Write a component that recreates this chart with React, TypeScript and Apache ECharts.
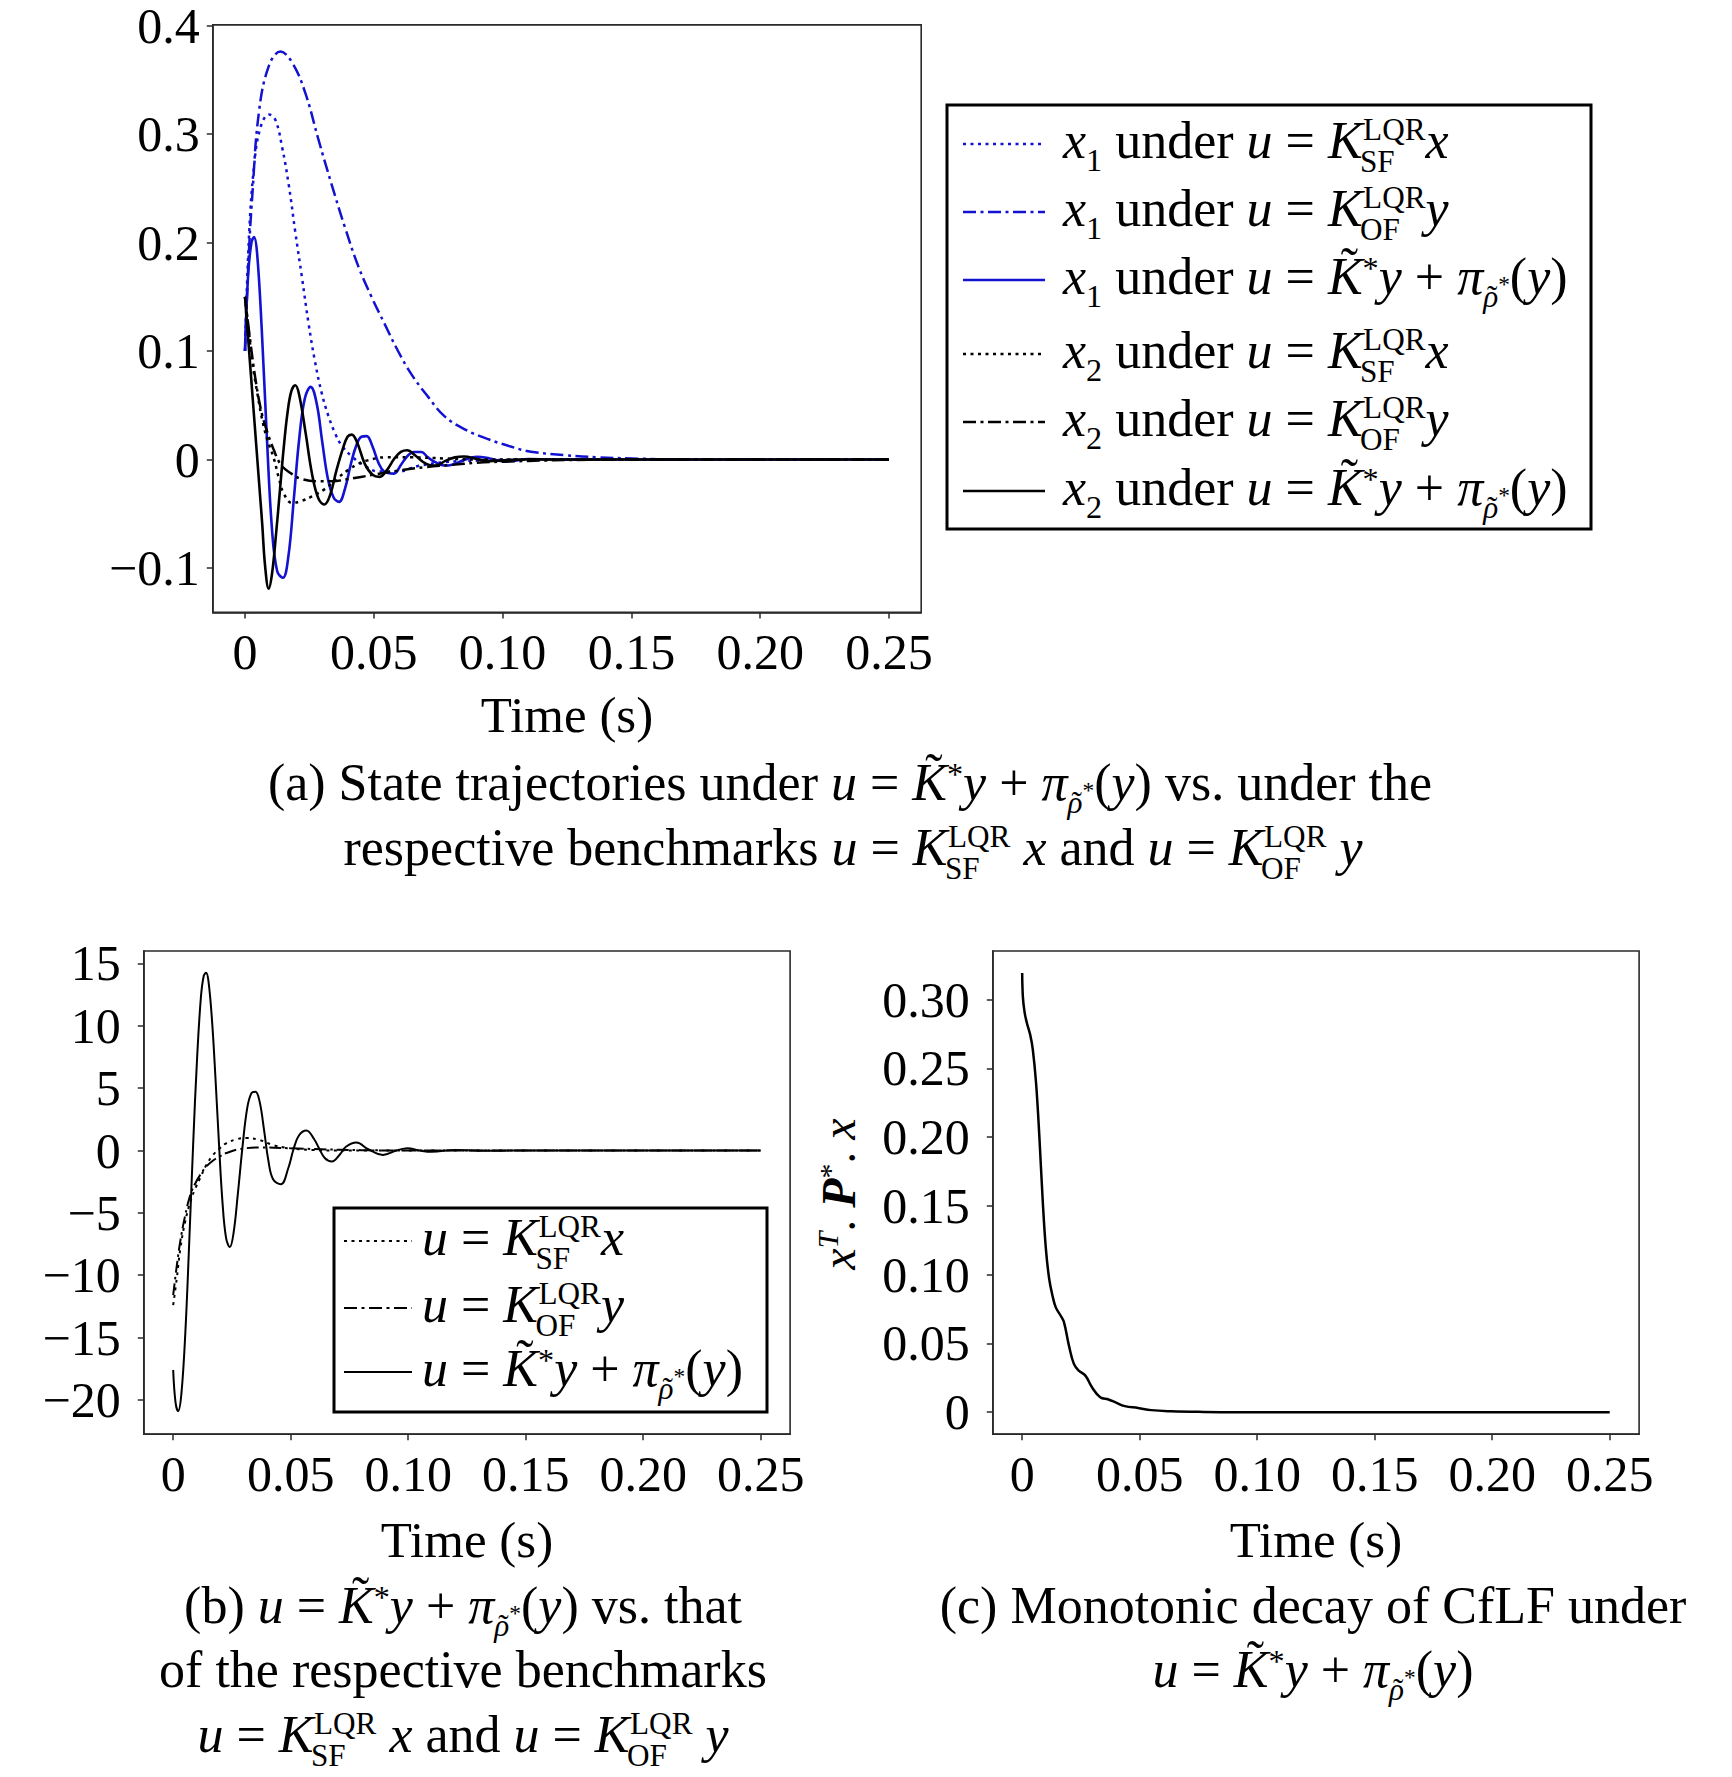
import React, { useEffect, useRef } from 'react';
import * as echarts from 'echarts';

// ---------------- data ----------------
const X_TICKS = [0, 0.05, 0.1, 0.15, 0.2, 0.25];
const X_TICK_LABELS = ['0', '0.05', '0.10', '0.15', '0.20', '0.25'];
const A_Y_TICKS = [-0.1, 0, 0.1, 0.2, 0.3, 0.4];
const A_Y_TICK_LABELS = ['\u22120.1', '0', '0.1', '0.2', '0.3', '0.4'];
const B_Y_TICKS = [-20, -15, -10, -5, 0, 5, 10, 15];
const B_Y_TICK_LABELS = ['\u221220', '\u221215', '\u221210', '\u22125', '0', '5', '10', '15'];
const C_Y_TICKS = [0, 0.05, 0.1, 0.15, 0.2, 0.25, 0.3];
const C_Y_TICK_LABELS = ['0', '0.05', '0.10', '0.15', '0.20', '0.25', '0.30'];

// (a) x1 under u = K_SF x  (blue dotted)
const X1_SF = [[0,0.1],[0.0015,0.203],[0.0035,0.27],[0.006,0.306],[0.0093,0.318],[0.0118,0.313],[0.0144,0.288],[0.017,0.253],[0.0195,0.21],[0.0221,0.168],[0.0247,0.125],[0.0272,0.09],[0.0298,0.061],[0.0324,0.04],[0.035,0.024],[0.0375,0.013],[0.0414,0.003],[0.0465,-0.006],[0.0517,-0.011],[0.0594,-0.011],[0.0671,-0.006],[0.0774,-0.0025],[0.09,-0.001],[0.11,0],[0.25,0]];
// (a) x1 under u = K_OF y  (blue dash-dot)
const X1_OF = [[0,0.1],[0.0014,0.185],[0.0028,0.242],[0.0054,0.32],[0.0093,0.363],[0.0138,0.376],[0.0183,0.366],[0.0234,0.338],[0.0285,0.295],[0.0337,0.253],[0.0388,0.214],[0.044,0.178],[0.0491,0.15],[0.0542,0.125],[0.0594,0.1],[0.0645,0.079],[0.071,0.058],[0.0774,0.04],[0.0851,0.028],[0.0941,0.019],[0.1031,0.012],[0.111,0.0072],[0.124,0.0041],[0.137,0.002],[0.15,0.001],[0.17,0],[0.25,0]];
// (a) x1 under proposed control (blue solid)
const X1_OPT = [[0,0.1],[0.0012,0.17],[0.0025,0.2],[0.0035,0.205],[0.0047,0.19],[0.0065,0.12],[0.0085,0.02],[0.0105,-0.065],[0.0125,-0.103],[0.0147,-0.109],[0.0168,-0.09],[0.019,-0.035],[0.021,0.018],[0.0232,0.056],[0.0255,0.067],[0.0278,0.052],[0.03,0.016],[0.0322,-0.018],[0.0344,-0.035],[0.0365,-0.039],[0.0388,-0.027],[0.041,-0.005],[0.0432,0.013],[0.0452,0.021],[0.0472,0.0216],[0.0495,0.012],[0.0518,-0.003],[0.054,-0.011],[0.0578,-0.013],[0.0605,-0.005],[0.063,0.003],[0.0655,0.007],[0.0684,0.007],[0.071,0.002],[0.0735,-0.002],[0.0775,-0.0055],[0.08,-0.005],[0.085,-0.0005],[0.09,0.0025],[0.095,0.001],[0.1,-0.0015],[0.105,-0.001],[0.11,0.0005],[0.12,0],[0.25,0]];
// (a) x2 under u = K_SF x  (black dotted)
const X2_SF = [[0,0.15],[0.0015,0.118],[0.0028,0.09],[0.0048,0.061],[0.0067,0.0365],[0.0086,0.0188],[0.0112,0.001],[0.0131,-0.0167],[0.015,-0.031],[0.0183,-0.04],[0.0221,-0.038],[0.026,-0.034],[0.0311,-0.027],[0.0362,-0.0167],[0.0401,-0.0095],[0.044,-0.004],[0.0478,-0.0007],[0.0542,0.002],[0.0645,0.002],[0.0774,0.001],[0.09,0],[0.25,0]];
// (a) x2 under u = K_OF y  (black dash-dot)
const X2_OF = [[0,0.15],[0.002,0.11],[0.004,0.075],[0.006,0.048],[0.008,0.03],[0.011,0.01],[0.014,-0.005],[0.018,-0.013],[0.022,-0.018],[0.028,-0.02],[0.034,-0.02],[0.04,-0.018],[0.05,-0.014],[0.06,-0.01],[0.07,-0.007],[0.08,-0.005],[0.09,-0.003],[0.1,-0.002],[0.12,-0.0007],[0.15,0],[0.25,0]];
// (a) x2 under proposed control (black solid)
const X2_OPT = [[0,0.15],[0.0015,0.103],[0.003,0.056],[0.0045,0.009],[0.006,-0.038],[0.0067,-0.06],[0.0078,-0.098],[0.0092,-0.119],[0.0105,-0.105],[0.012,-0.07],[0.0135,-0.03],[0.015,0.01],[0.0165,0.043],[0.018,0.063],[0.0195,0.0684],[0.021,0.06],[0.0235,0.025],[0.026,-0.013],[0.0285,-0.036],[0.0308,-0.0415],[0.033,-0.033],[0.0355,-0.01],[0.038,0.01],[0.0398,0.021],[0.0414,0.023],[0.0435,0.016],[0.0465,-0.004],[0.0495,-0.014],[0.0523,-0.016],[0.055,-0.01],[0.058,0.001],[0.0605,0.007],[0.063,0.0085],[0.066,0.004],[0.069,-0.002],[0.0715,-0.005],[0.074,-0.0055],[0.078,-0.001],[0.0815,0.002],[0.085,0.0028],[0.09,0.0005],[0.095,-0.0015],[0.1,-0.0008],[0.11,0.0003],[0.12,0],[0.25,0]];

// (b) control inputs
const U_SF = [[0,-12.4],[0.0015,-10.3],[0.0031,-7.8],[0.005,-5.8],[0.0073,-4.1],[0.0095,-3.0],[0.0115,-2.2],[0.014,-1.2],[0.017,-0.35],[0.02,0.2],[0.0227,0.6],[0.027,0.9],[0.031,1.0],[0.0367,0.85],[0.0423,0.45],[0.049,0.2],[0.059,0.05],[0.07,0],[0.25,0]];
const U_OF = [[0,-11.6],[0.0015,-9.3],[0.003,-7.3],[0.005,-5.3],[0.0073,-3.55],[0.0095,-2.6],[0.0115,-1.95],[0.014,-1.3],[0.017,-0.8],[0.02,-0.45],[0.0227,-0.2],[0.028,0.1],[0.0367,0.24],[0.049,0.19],[0.063,0.1],[0.08,0.03],[0.1,0],[0.25,0]];
const U_OPT = [[0,-17.6],[0.001,-20.2],[0.0021,-20.9],[0.0035,-19.5],[0.0052,-14.5],[0.0068,-7.5],[0.0085,0.5],[0.0102,7.5],[0.0118,12.3],[0.013,14.0],[0.014,14.25],[0.015,13.6],[0.0165,10.5],[0.018,5.8],[0.0195,0.5],[0.021,-4.2],[0.0225,-7.0],[0.0241,-7.74],[0.0257,-6.6],[0.0275,-3.5],[0.0295,0.3],[0.0315,3.4],[0.0333,4.6],[0.035,4.72],[0.0368,3.9],[0.0387,1.6],[0.0405,-0.8],[0.0425,-2.3],[0.0458,-2.7],[0.049,-1.4],[0.0512,0.1],[0.0535,1.2],[0.0567,1.6],[0.06,0.9],[0.062,0.2],[0.0645,-0.6],[0.0675,-0.88],[0.071,-0.3],[0.0735,0.3],[0.078,0.64],[0.083,0.1],[0.0892,-0.35],[0.095,0],[0.0997,0.19],[0.105,0],[0.11,-0.1],[0.12,0.05],[0.13,-0.02],[0.15,0],[0.25,0]];

// (c) CfLF
const CFLF = [[0,0.3193],[0.0003,0.302],[0.001,0.291],[0.002,0.283],[0.0034,0.2745],[0.0045,0.264],[0.0059,0.2395],[0.0073,0.2008],[0.0087,0.155],[0.0101,0.1185],[0.0115,0.0968],[0.0129,0.0847],[0.0143,0.0762],[0.0164,0.0701],[0.0178,0.0653],[0.0199,0.0484],[0.022,0.0351],[0.0241,0.0302],[0.0269,0.0266],[0.0297,0.0181],[0.0332,0.0109],[0.0367,0.0092],[0.0395,0.0073],[0.0437,0.0044],[0.0493,0.0031],[0.0549,0.0015],[0.0633,0.0007],[0.0773,0.0002],[0.0913,0],[0.25,0]];

// ---------------- styles ----------------
const FAMILY = '"Liberation Serif", serif';
const BLUE = '#1212d0';
const AXIS = '#2a2a2a';
const DOT = [3, 4.5];
const DASHDOT = [13, 4.5, 3, 4.5];

// ---------------- math text layout ----------------
type Piece = { s: string; it?: boolean; b?: boolean; sc?: number; dy?: number; dx?: number; stack?: boolean; accent?: boolean };

let _ctx: any = null;
function textWidth(s: string, sz: number, it?: boolean, b?: boolean) {
  if (!_ctx) _ctx = document.createElement('canvas').getContext('2d');
  _ctx.font = `${it ? 'italic ' : ''}${b ? 'bold ' : ''}${sz}px ${FAMILY}`;
  return _ctx.measureText(s).width;
}

function mathText(pieces: Piece[], x: number, baseY: number, fs: number, align: 'left' | 'center' = 'left') {
  const placed: any[] = [];
  let cx = 0, stackEnd = -Infinity, prevX = 0, prevW = 0;
  for (const p of pieces) {
    const sz = fs * (p.sc ?? 1);
    const w = textWidth(p.s, sz, p.it, p.b);
    const px = p.accent ? prevX + prevW / 2 - w / 2 + (p.dx ?? 0) * fs : cx + (p.dx ?? 0) * fs;
    placed.push({ p, sz, px, y: baseY + (p.dy ?? 0) * fs });
    if (p.accent) continue;
    if (p.stack) { stackEnd = Math.max(stackEnd, px + w); continue; }
    prevX = px; prevW = w;
    cx = Math.max(px + w, stackEnd);
    stackEnd = -Infinity;
  }
  const off = align === 'center' ? x - cx / 2 : x;
  return placed.map(({ p, sz, px, y }) => ({
    type: 'text', x: off + px, y: y - 0.3375 * sz, silent: true, z: 100,
    style: {
      text: p.s, fontSize: sz, lineHeight: Math.round(sz * 0.85), fontFamily: FAMILY,
      fontStyle: p.it ? 'italic' : 'normal', fontWeight: p.b ? 'bold' : 'normal',
      fill: '#000', align: 'left', verticalAlign: 'middle',
    },
  }));
}

const SC = 0.6;
const R = (s: string): Piece => ({ s });
const I = (s: string): Piece => ({ s, it: true });
const SUB = (s: string): Piece => ({ s, sc: 0.62, dy: 0.24 });
const K_LQR = (sub: string): Piece[] => [I('K'), { s: 'LQR', sc: SC, dy: -0.34, stack: true, dx: 0.01 }, { s: sub, sc: SC, dy: 0.27, dx: -0.05 }];
const K_TILDE_STAR: Piece[] = [I('K'), { s: '\u02DC', accent: true, dy: -0.2, dx: 0.08 }, { s: '*', sc: 0.62, dy: -0.3 }];
const PI_SUB: Piece[] = [I('\u03C0'), { s: '\u03C1', it: true, sc: SC, dy: 0.26 }, { s: '\u02DC', sc: SC, accent: true, dy: 0.26, dx: 0.03 }, { s: '*', sc: 0.45, dy: -0.05 }];
const OPT_RHS: Piece[] = [I('u'), R(' = '), ...K_TILDE_STAR, I('y'), R(' + '), ...PI_SUB, R('('), I('y'), R(')')];
const SF_RHS: Piece[] = [I('u'), R(' = '), ...K_LQR('SF'), I('x')];
const OF_RHS: Piece[] = [I('u'), R(' = '), ...K_LQR('OF'), I('y')];
const BENCH: Piece[] = [I('u'), R(' = '), ...K_LQR('SF'), R(' '), I('x'), R(' and '), I('u'), R(' = '), ...K_LQR('OF'), R(' '), I('y')];

function buildGraphics() {
  const els: any[] = [];
  // legend (a)
  els.push({ type: 'rect', z: 90, shape: { x: 947, y: 105, width: 644, height: 424 }, style: { fill: '#fff', stroke: '#000', lineWidth: 3 } });
  const legA = [
    { y: 144, color: BLUE, dash: DOT, txt: [I('x'), SUB('1'), R(' under '), ...SF_RHS] },
    { y: 212, color: BLUE, dash: DASHDOT, txt: [I('x'), SUB('1'), R(' under '), ...OF_RHS] },
    { y: 280, color: BLUE, dash: null, txt: [I('x'), SUB('1'), R(' under '), ...OPT_RHS] },
    { y: 354, color: '#000', dash: DOT, txt: [I('x'), SUB('2'), R(' under '), ...SF_RHS] },
    { y: 422, color: '#000', dash: DASHDOT, txt: [I('x'), SUB('2'), R(' under '), ...OF_RHS] },
    { y: 491, color: '#000', dash: null, txt: [I('x'), SUB('2'), R(' under '), ...OPT_RHS] },
  ];
  for (const e of legA) {
    els.push({ type: 'line', z: 95, shape: { x1: 963, y1: e.y, x2: 1045, y2: e.y }, style: { stroke: e.color, lineWidth: 2.5, lineDash: e.dash || undefined } });
    els.push(...mathText(e.txt, 1063, e.y + 14, 52));
  }
  // legend (b)
  els.push({ type: 'rect', z: 90, shape: { x: 334, y: 1208, width: 433, height: 204 }, style: { fill: '#fff', stroke: '#000', lineWidth: 3 } });
  const legB = [
    { y: 1241, dash: DOT, txt: SF_RHS },
    { y: 1308, dash: DASHDOT, txt: OF_RHS },
    { y: 1372, dash: null, txt: OPT_RHS },
  ];
  for (const e of legB) {
    els.push({ type: 'line', z: 95, shape: { x1: 344, y1: e.y, x2: 412, y2: e.y }, style: { stroke: '#000', lineWidth: 2, lineDash: e.dash || undefined } });
    els.push(...mathText(e.txt, 422, e.y + 14, 52));
  }
  // captions
  els.push(...mathText([R('(a) State trajectories under '), ...OPT_RHS, R(' vs. under the')], 850, 800, 52, 'center'));
  els.push(...mathText([R('respective benchmarks '), ...BENCH], 853, 865, 52, 'center'));
  els.push(...mathText([R('(b) '), ...OPT_RHS, R(' vs. that')], 463, 1623, 52, 'center'));
  els.push(...mathText([R('of the respective benchmarks')], 463, 1687, 52, 'center'));
  els.push(...mathText(BENCH, 463, 1752, 52, 'center'));
  els.push(...mathText([R('(c) Monotonic decay of CfLF under')], 1313, 1623, 52, 'center'));
  els.push(...mathText(OPT_RHS, 1313, 1687, 52, 'center'));
  // y label (c)
  const yl: Piece[] = [I('x'), { s: 'T', it: true, sc: 0.62, dy: -0.36 }, R('. '), { s: 'P', it: true, b: true }, { s: '*', sc: 0.62, dy: -0.32 }, R('. '), I('x')];
  els.push({ type: 'group', x: 855, y: 1194, rotation: Math.PI / 2, children: mathText(yl, 0, 0, 48, 'center') });
  return els;
}

function labelFor(ticks: number[], labels: string[]) {
  return (v: number) => {
    let best = 0;
    for (let i = 1; i < ticks.length; i++) if (Math.abs(ticks[i] - v) < Math.abs(ticks[best] - v)) best = i;
    return labels[best];
  };
}

function xAxis(grid: number, nameGap: number) {
  return {
    type: 'value', gridIndex: grid, min: -0.0125, max: 0.2625,
    axisLine: { show: true, onZero: false, lineStyle: { color: AXIS, width: 1.6 } },
    axisTick: { show: true, customValues: X_TICKS, length: 6, lineStyle: { color: AXIS, width: 1.5 } },
    axisLabel: { customValues: X_TICKS, formatter: labelFor(X_TICKS, X_TICK_LABELS), fontSize: 50, lineHeight: 46, fontFamily: FAMILY, color: '#000', margin: 17 },
    splitLine: { show: false },
    name: 'Time (s)', nameLocation: 'middle', nameGap,
    nameTextStyle: { fontSize: 51, fontFamily: FAMILY, color: '#000', verticalAlign: 'middle' },
  };
}

function yAxis(grid: number, min: number, max: number, ticks: number[], labels: string[], margin: number) {
  return {
    type: 'value', gridIndex: grid, min, max,
    axisLine: { show: true, onZero: false, lineStyle: { color: AXIS, width: 1.6 } },
    axisTick: { show: true, customValues: ticks, length: 6, lineStyle: { color: AXIS, width: 1.5 } },
    axisLabel: { customValues: ticks, formatter: labelFor(ticks, labels), fontSize: 50, lineHeight: 40, fontFamily: FAMILY, color: '#000', margin },
    splitLine: { show: false },
  };
}

function line(data: number[][], xi: number, color: string, width: number, dash: any) {
  return {
    type: 'line', data, xAxisIndex: xi, yAxisIndex: xi, showSymbol: false, symbol: 'none', smooth: 0.4,
    lineStyle: { color, width, type: dash || 'solid', cap: 'butt' }, silent: true,
  };
}

function buildOption() {
  const gridStyle = { show: true, borderColor: AXIS, borderWidth: 1.6, backgroundColor: 'transparent' };
  return {
    animation: false,
    backgroundColor: '#fff',
    grid: [
      { left: 212.8, top: 24.9, width: 708.4, height: 587.5, ...gridStyle },
      { left: 143.8, top: 951, width: 646.3, height: 483.2, ...gridStyle },
      { left: 992.8, top: 951, width: 646.3, height: 483.2, ...gridStyle },
    ],
    xAxis: [xAxis(0, 103), xAxis(1, 105.5), xAxis(2, 105.5)],
    yAxis: [
      yAxis(0, -0.1409, 0.4006, A_Y_TICKS, A_Y_TICK_LABELS, 13),
      yAxis(1, -22.75, 16.0, B_Y_TICKS, B_Y_TICK_LABELS, 23),
      yAxis(2, -0.016, 0.3353, C_Y_TICKS, C_Y_TICK_LABELS, 23),
    ],
    series: [
      line(X1_SF, 0, BLUE, 2.5, DOT),
      line(X1_OF, 0, BLUE, 2.5, DASHDOT),
      line(X1_OPT, 0, BLUE, 2.6, null),
      line(X2_SF, 0, '#000', 2.5, DOT),
      line(X2_OF, 0, '#000', 2.5, DASHDOT),
      line(X2_OPT, 0, '#000', 2.6, null),
      line(U_SF, 1, '#000', 2, DOT),
      line(U_OF, 1, '#000', 2, [12, 4, 2.5, 4]),
      line(U_OPT, 1, '#000', 2, null),
      line(CFLF, 2, '#000', 2.5, null),
    ],
    graphic: { elements: buildGraphics() },
  };
}

export default function App() {
  const ref = useRef<HTMLDivElement>(null);
  useEffect(() => {
    const chart = echarts.init(ref.current!, null, { renderer: 'svg' });
    chart.setOption(buildOption() as any);
    return () => chart.dispose();
  }, []);
  return <div ref={ref} style={{ position: 'absolute', left: 0, top: 0, width: 1732, height: 1777, background: '#fff' }} />;
}
